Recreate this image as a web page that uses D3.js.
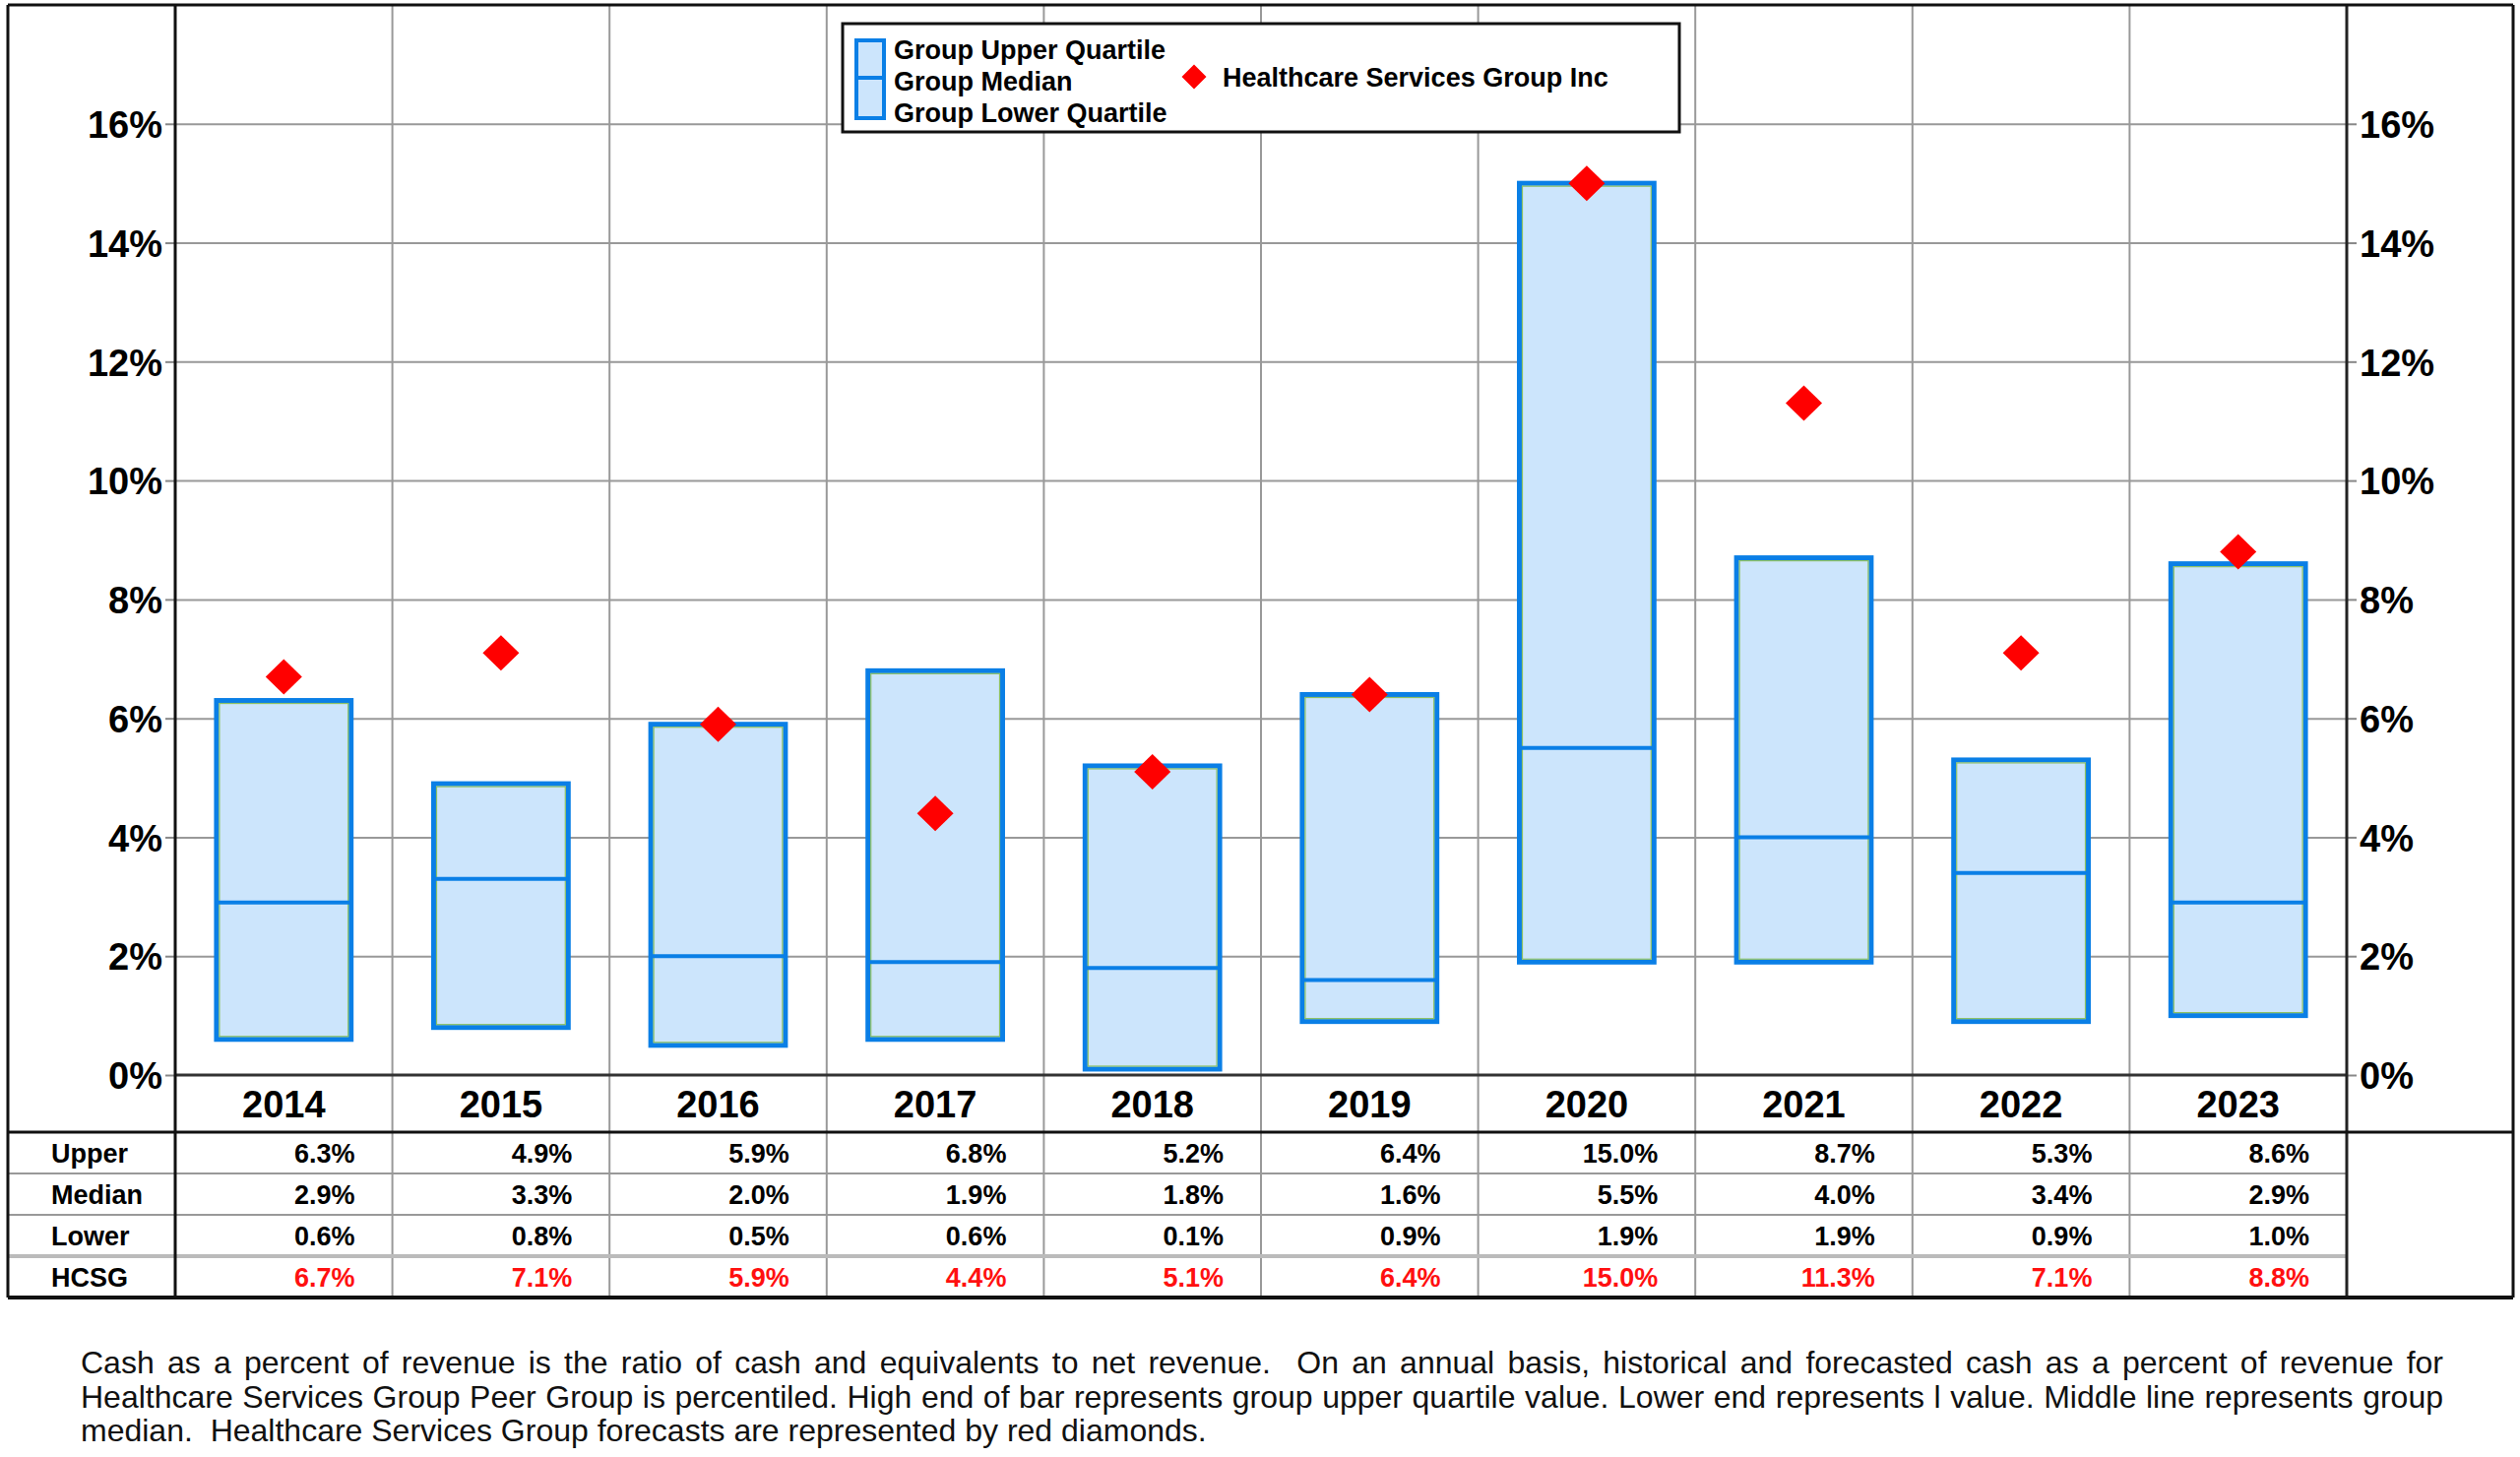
<!DOCTYPE html>
<html>
<head>
<meta charset="utf-8">
<script src="https://cdn.jsdelivr.net/npm/d3@7"></script>
<style>
  body { margin: 0; background: #fff; }
  text { font-family: "Liberation Sans", Arial, sans-serif; }
</style>
</head>
<body>
<div id="chart"></div>
<script>
const years = [2014, 2015, 2016, 2017, 2018, 2019, 2020, 2021, 2022, 2023];
const upper = [6.3, 4.9, 5.9, 6.8, 5.2, 6.4, 15.0, 8.7, 5.3, 8.6];
const median = [2.9, 3.3, 2.0, 1.9, 1.8, 1.6, 5.5, 4.0, 3.4, 2.9];
const lower = [0.6, 0.8, 0.5, 0.6, 0.1, 0.9, 1.9, 1.9, 0.9, 1.0];
const hcsg = [6.7, 7.1, 5.9, 4.4, 5.1, 6.4, 15.0, 11.3, 7.1, 8.8];
const yTicks = [0, 2, 4, 6, 8, 10, 12, 14, 16];
const rowLabels = ["Upper", "Median", "Lower", "HCSG"];
const legendLabels = ["Group Upper Quartile", "Group Median", "Group Lower Quartile"];
const companyName = "Healthcare Services Group Inc";
const footnote = [
  "Cash as a percent of revenue is the ratio of cash and equivalents to net revenue.  On an annual basis, historical and forecasted cash as a percent of revenue for",
  "Healthcare Services Group Peer Group is percentiled. High end of bar represents group upper quartile value. Lower end represents l value. Middle line represents group",
  "median.  Healthcare Services Group forecasts are represented by red diamonds."
];

const width = 2560, height = 1480;
const outer = { left: 8, right: 2553, top: 5 };
const plot = { left: 178, right: 2384, top: 5, bottom: 1092 };
const yearRowBottom = 1150;
const rowH = 42;
const tableBottom = yearRowBottom + rowH * 4;

const svg = d3.select("#chart").append("svg")
  .attr("width", width).attr("height", height)
  .attr("viewBox", [0, 0, width, height]);
svg.append("rect").attr("width", width).attr("height", height).attr("fill", "#fff");

const x = d3.scaleBand().domain(years).range([plot.left, plot.right]).padding(0);
const y = d3.scaleLinear().domain([0, 18]).range([plot.bottom, plot.top]);
const barW = x.bandwidth() * 0.62;

// horizontal gridlines
svg.append("g")
  .attr("transform", `translate(${plot.left},0)`)
  .call(d3.axisLeft(y).tickValues(yTicks.slice(1)).tickSize(-(plot.right - plot.left)).tickFormat(""))
  .call(g => g.select(".domain").remove())
  .call(g => g.selectAll("line").attr("stroke", "#999").attr("stroke-width", 2));

// vertical gridlines through chart and table
svg.append("g").selectAll("line")
  .data(years.slice(1))
  .join("line")
  .attr("x1", d => x(d)).attr("x2", d => x(d))
  .attr("y1", plot.top).attr("y2", tableBottom)
  .attr("stroke", "#999").attr("stroke-width", 2);

// axes with labels
const fmt = d => d + "%";
const styleAxis = g => g
  .call(g => g.select(".domain").remove())
  .call(g => g.selectAll("line").attr("stroke", "#888").attr("stroke-width", 2))
  .call(g => g.selectAll("text").attr("font-size", 38).attr("font-weight", "bold").attr("fill", "#000")
    .attr("font-family", "Liberation Sans, Arial, sans-serif").attr("dy", "0.36em"));

svg.append("g")
  .attr("transform", `translate(${plot.left},0)`)
  .call(d3.axisLeft(y).tickValues(yTicks).tickSize(10).tickPadding(3).tickFormat(fmt))
  .call(styleAxis);

svg.append("g")
  .attr("transform", `translate(${plot.right},0)`)
  .call(d3.axisRight(y).tickValues(yTicks).tickSize(10).tickPadding(3).tickFormat(fmt))
  .call(styleAxis);

// bars
const boxes = svg.append("g").selectAll("g")
  .data(years)
  .join("g");

boxes.append("rect")
  .attr("x", d => x(d) + (x.bandwidth() - barW) / 2)
  .attr("y", (d, i) => y(upper[i]))
  .attr("width", barW)
  .attr("height", (d, i) => y(lower[i]) - y(upper[i]))
  .attr("fill", "#cce5fc")
  .attr("stroke", "#0a7fe6")
  .attr("stroke-width", 5);

boxes.append("rect")
  .attr("x", d => x(d) + (x.bandwidth() - barW) / 2 + 3)
  .attr("y", (d, i) => y(upper[i]) + 3)
  .attr("width", barW - 6)
  .attr("height", (d, i) => y(lower[i]) - y(upper[i]) - 6)
  .attr("fill", "none")
  .attr("stroke", "#8cc063")
  .attr("stroke-width", 1.2);

boxes.append("line")
  .attr("x1", d => x(d) + (x.bandwidth() - barW) / 2)
  .attr("x2", d => x(d) + (x.bandwidth() + barW) / 2)
  .attr("y1", (d, i) => y(median[i]))
  .attr("y2", (d, i) => y(median[i]))
  .attr("stroke", "#0a7fe6")
  .attr("stroke-width", 4);

// diamonds
const diamond = (w, h) => `M0,${-h / 2}L${w / 2},0L0,${h / 2}L${-w / 2},0Z`;
svg.append("g").selectAll("path")
  .data(years)
  .join("path")
  .attr("transform", (d, i) => `translate(${x(d) + x.bandwidth() / 2},${y(hcsg[i])})`)
  .attr("d", diamond(37, 36))
  .attr("fill", "#ff0000");

// frame lines
const line = (x1, y1, x2, y2, stroke, w) =>
  svg.append("line").attr("x1", x1).attr("y1", y1).attr("x2", x2).attr("y2", y2)
    .attr("stroke", stroke).attr("stroke-width", w);

line(plot.left, y(0), plot.right, y(0), "#333", 3);
line(outer.left, yearRowBottom + rowH, plot.right, yearRowBottom + rowH, "#999", 2);
line(outer.left, yearRowBottom + rowH * 2, plot.right, yearRowBottom + rowH * 2, "#999", 2);
line(outer.left, yearRowBottom + rowH * 3, plot.right, yearRowBottom + rowH * 3, "#bbb", 4);
line(plot.left, plot.top, plot.left, tableBottom, "#111", 3);
line(plot.right, plot.top, plot.right, tableBottom, "#222", 3);
line(outer.left, yearRowBottom, outer.right, yearRowBottom, "#111", 3);
line(outer.left, outer.top, outer.right, outer.top, "#111", 3);
line(outer.left, outer.top, outer.left, tableBottom, "#111", 3);
line(outer.right, outer.top, outer.right, tableBottom, "#111", 3);
line(outer.left, tableBottom, outer.right, tableBottom, "#111", 4);

// year labels
svg.append("g").selectAll("text")
  .data(years)
  .join("text")
  .attr("x", d => x(d) + x.bandwidth() / 2)
  .attr("y", 1135)
  .attr("text-anchor", "middle")
  .attr("font-size", 38).attr("font-weight", "bold")
  .text(d => d);

// table
const tableRows = [upper, median, lower, hcsg];
const rows = svg.append("g").selectAll("g")
  .data(tableRows)
  .join("g")
  .attr("transform", (d, r) => `translate(0,${yearRowBottom + rowH * r + rowH / 2 + 10})`);

rows.append("text")
  .attr("x", 52)
  .attr("font-size", 27).attr("font-weight", "bold")
  .text((d, r) => rowLabels[r]);

rows.selectAll(".val")
  .data((d, r) => d.map(v => ({ v, r })))
  .join("text")
  .attr("class", "val")
  .attr("x", (d, i) => x(years[i]) + x.bandwidth() - 38)
  .attr("text-anchor", "end")
  .attr("font-size", 27).attr("font-weight", "bold")
  .attr("fill", d => d.r === 3 ? "#ff1010" : "#000")
  .text(d => d.v.toFixed(1) + "%");

// legend
const legend = svg.append("g");
legend.append("rect")
  .attr("x", 856).attr("y", 24).attr("width", 850).attr("height", 110)
  .attr("fill", "#fff").attr("stroke", "#111").attr("stroke-width", 3);
legend.append("rect")
  .attr("x", 870).attr("y", 41).attr("width", 28).attr("height", 79)
  .attr("fill", "#cce5fc").attr("stroke", "#0a7fe6").attr("stroke-width", 4);
legend.append("line")
  .attr("x1", 870).attr("x2", 898).attr("y1", 79).attr("y2", 79)
  .attr("stroke", "#0a7fe6").attr("stroke-width", 4);
legend.selectAll(".lt")
  .data(legendLabels)
  .join("text")
  .attr("class", "lt")
  .attr("x", 908)
  .attr("y", (d, i) => 60 + i * 32)
  .attr("font-size", 27).attr("font-weight", "bold")
  .text(d => d);
legend.append("path")
  .attr("transform", "translate(1213,78)")
  .attr("d", diamond(25, 25))
  .attr("fill", "#ff0000");
legend.append("text")
  .attr("x", 1242).attr("y", 88)
  .attr("font-size", 27).attr("font-weight", "bold")
  .text(companyName);

// footnote, justified
const noteLeft = 82, noteRight = 2482;
const notes = svg.append("g").selectAll("text")
  .data(footnote)
  .join("text")
  .attr("x", noteLeft)
  .attr("y", (d, i) => 1395 + i * 34.5)
  .attr("font-size", 32)
  .style("white-space", "pre")
  .attr("fill", "#111")
  .text(d => d);

notes.each(function (d, i) {
  if (i === footnote.length - 1) return;
  const natural = this.getComputedTextLength();
  const spaces = (d.match(/ /g) || []).length;
  d3.select(this).attr("word-spacing", (noteRight - noteLeft - natural) / spaces);
});
</script>
</body>
</html>
